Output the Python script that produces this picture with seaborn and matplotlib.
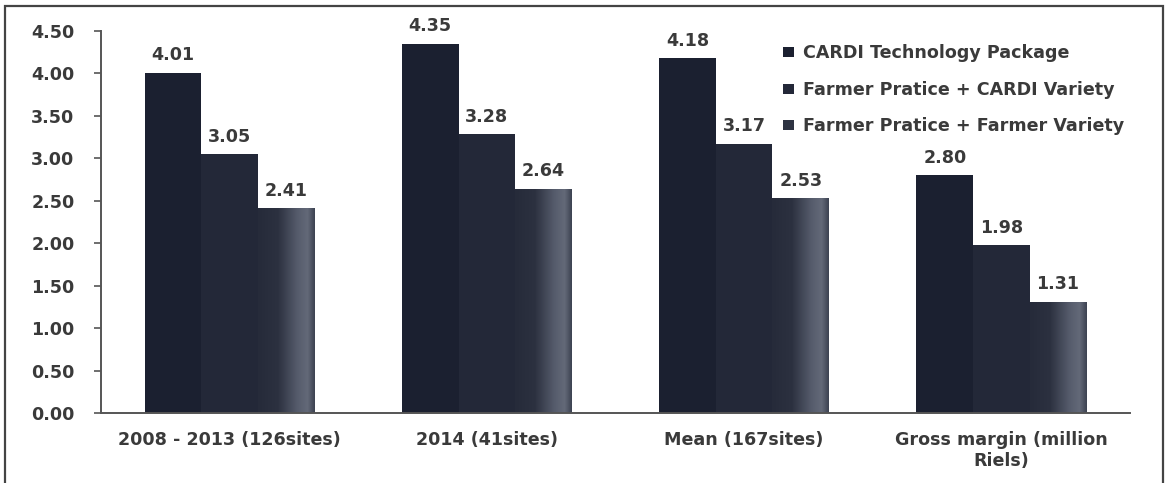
import matplotlib
matplotlib.use("Agg")
import matplotlib.pyplot as plt
from matplotlib.patches import Rectangle
from matplotlib.colors import LinearSegmentedColormap
import numpy as np
import seaborn as sns
import pandas as pd

categories = ["2008 - 2013 (126sites)", "2014 (41sites)", "Mean (167sites)", "Gross margin (million\nRiels)"]
series = ["CARDI Technology Package", "Farmer Pratice + CARDI Variety", "Farmer Pratice + Farmer Variety"]
cardi_package = [4.01, 4.35, 4.18, 2.80]
fp_cardi_variety = [3.05, 3.28, 3.17, 1.98]
fp_farmer_variety = [2.41, 2.64, 2.53, 1.31]
yticks = [0.0, 0.5, 1.0, 1.5, 2.0, 2.5, 3.0, 3.5, 4.0, 4.5]

rows = []
for name, vals in zip(series, [cardi_package, fp_cardi_variety, fp_farmer_variety]):
    for cat, v in zip(categories, vals):
        rows.append({"category": cat, "series": name, "value": v})
df = pd.DataFrame(rows)

sns.set_theme(style="white")
plt.rcParams["font.family"] = ["DejaVu Sans"]
plt.rcParams["font.weight"] = "bold"

text_color = "#3a3a3a"
axis_color = "#555555"
palette = ["#1b2030", "#232838", "#2e3342"]
fs = 12.6

fig = plt.figure(figsize=(11.66, 4.83), dpi=100)
ax = fig.add_axes([0.0866, 0.145, 0.8825, 0.791])

sns.barplot(data=df, x="category", y="value", hue="series", order=categories,
            hue_order=series, palette=palette, width=0.66, saturation=1,
            edgecolor="none", ax=ax)

# grainy lighter shading on the right side of the third series
shade = LinearSegmentedColormap.from_list(
    "shade", [(0.0, "#262b3a"), (0.35, "#2c3140"), (0.7, "#565c6c"),
              (0.88, "#636978"), (1.0, "#3e4453")])
for patch in ax.containers[2]:
    x0, y0 = patch.get_x(), patch.get_y()
    w, h = patch.get_width(), patch.get_height()
    grad = np.linspace(0, 1, 64)[None, :]
    im = ax.imshow(grad, extent=(x0, x0 + w, y0, y0 + h), aspect="auto",
                   cmap=shade, origin="lower", zorder=patch.get_zorder())
    im.set_clip_path(patch)

for container in ax.containers:
    ax.bar_label(container, fmt="%.2f", padding=6, fontsize=fs,
                 fontweight="bold", color=text_color)

ax.set_ylim(0, 4.5)
ax.set_xlim(-0.5, len(categories) - 0.5)
ax.set_yticks(yticks)
ax.set_yticklabels([f"{t:.2f}" for t in yticks], fontsize=fs,
                   fontweight="bold", color=text_color)
ax.set_xticks(range(len(categories)))
ax.set_xticklabels(categories, fontsize=fs, fontweight="bold", color=text_color)
ax.tick_params(axis="x", length=0, pad=13)
ax.set_xticks([i - 0.5 for i in range(len(categories) + 1)], minor=True)
ax.tick_params(axis="x", which="minor", length=5, width=1.2, color=axis_color, direction="out")
ax.tick_params(axis="y", length=5, width=1.2, color=axis_color, direction="out", left=True, pad=14)
ax.set_xlabel("")
ax.set_ylabel("")

for side in ["top", "right"]:
    ax.spines[side].set_visible(False)
for side in ["left", "bottom"]:
    ax.spines[side].set_color(axis_color)
    ax.spines[side].set_linewidth(1.4)

leg = ax.legend(loc="upper left", bbox_to_anchor=(0.6715, 0.908),
                bbox_transform=fig.transFigure, frameon=False, borderpad=0,
                borderaxespad=0, fontsize=fs, handlelength=0.65, handleheight=0.5,
                handletextpad=0.5, labelspacing=1.05)
for t in leg.get_texts():
    t.set_color(text_color)
    t.set_fontweight("bold")

fig.patches.append(Rectangle((0.0045, -0.01), 0.9925, 0.998, transform=fig.transFigure,
                             fill=False, edgecolor="#444444", linewidth=1.6))

fig.savefig("out.png", dpi=100, facecolor="white")
